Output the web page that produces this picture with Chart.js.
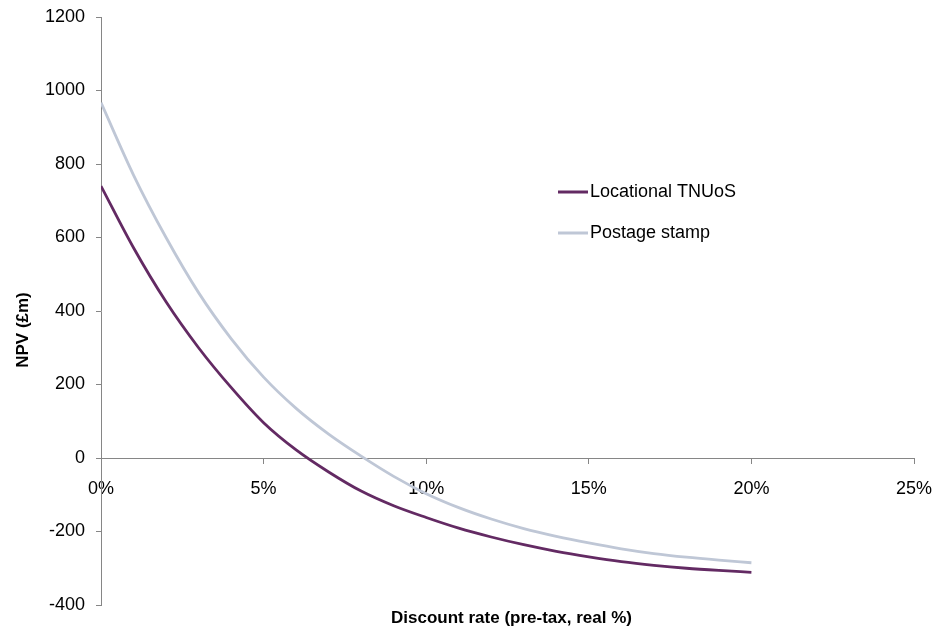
<!DOCTYPE html>
<html>
<head>
<meta charset="utf-8">
<script src="https://cdn.jsdelivr.net/npm/chart.js@4.4.0/dist/chart.umd.min.js"></script>
<style>
    html, body { margin: 0; padding: 0; background: #fff; }
    #wrap { width: 936px; height: 632px; }
</style>
</head>
<body>
<div id="wrap"><canvas id="myChart" width="936" height="632"></canvas></div>
<script>
const rates = [0, 1, 2, 3, 4, 5, 6, 7, 8, 9, 10, 11, 12, 13, 14, 15, 16, 17, 18, 19, 20];
const locational = [740, 572, 425, 300, 192, 96, 22, -38, -90, -130, -162, -191, -215, -236, -254, -269, -282, -292, -300, -306, -311];
const postage = [967, 770, 600, 450, 325, 220, 135, 65, 5, -50, -97, -135, -166, -192, -213, -231, -247, -260, -270, -278, -285];
const seriesNames = ['Locational TNUoS', 'Postage stamp'];
const seriesColors = ['#632a63', '#bfc7d6'];

const FONT = "'Liberation Sans', Arial, sans-serif";

function toPoints(values) {
    return rates.map((r, i) => ({ x: r, y: values[i] }));
}

// legend and axis titles drawn by hand, Excel places them where Chart.js won't
const extras = {
    id: 'extras',
    afterDraw(chart) {
        const ctx = chart.ctx;
        const area = chart.chartArea;
        ctx.save();
        ctx.fillStyle = '#000';
        ctx.textBaseline = 'middle';

        ctx.font = '18px ' + FONT;
        ctx.textAlign = 'left';
        chart.data.datasets.forEach((ds, i) => {
            const y = 192 + i * 41;
            ctx.strokeStyle = ds.borderColor;
            ctx.lineWidth = 3;
            ctx.beginPath();
            ctx.moveTo(558, y);
            ctx.lineTo(588, y);
            ctx.stroke();
            ctx.fillText(ds.label, 590, y);
        });

        ctx.font = 'bold 17px ' + FONT;
        ctx.textAlign = 'center';
        ctx.fillText('Discount rate (pre-tax, real %)', (area.left + area.right) / 2 + 4, 618);

        ctx.translate(23, 330);
        ctx.rotate(-Math.PI / 2);
        ctx.fillText('NPV (£m)', 0, 0);
        ctx.restore();
    }
};

const ctx = document.getElementById('myChart').getContext('2d');
new Chart(ctx, {
    type: 'line',
    data: {
        datasets: [
            {
                label: seriesNames[0],
                data: toPoints(locational),
                borderColor: seriesColors[0],
                backgroundColor: seriesColors[0],
                borderWidth: 2.8,
                pointRadius: 0,
                cubicInterpolationMode: 'monotone'
            },
            {
                label: seriesNames[1],
                data: toPoints(postage),
                borderColor: seriesColors[1],
                backgroundColor: seriesColors[1],
                borderWidth: 2.8,
                pointRadius: 0,
                cubicInterpolationMode: 'monotone'
            }
        ]
    },
    options: {
        responsive: false,
        animation: false,
        layout: {
            padding: { top: 17, right: 22, bottom: 27, left: 0 }
        },
        plugins: {
            legend: { display: false },
            tooltip: { enabled: false }
        },
        scales: {
            x: {
                type: 'linear',
                position: { y: 0 },
                min: 0,
                max: 25,
                afterFit: scale => {
                    scale.height = 0;
                    scale.paddingLeft = 0;
                    scale.paddingRight = 0;
                },
                grid: { drawOnChartArea: false, drawTicks: true, tickLength: 5, color: '#868686' },
                border: { color: '#868686', width: 1 },
                ticks: {
                    stepSize: 5,
                    padding: 15,
                    color: '#000',
                    font: { family: FONT, size: 18 },
                    maxRotation: 0,
                    callback: v => v + '%'
                }
            },
            y: {
                min: -400,
                max: 1200,
                afterFit: scale => {
                    scale.width = 101;
                    scale.paddingTop = 0;
                    scale.paddingBottom = 0;
                },
                grid: { drawOnChartArea: false, drawTicks: true, tickLength: 5, color: '#868686' },
                border: { color: '#868686', width: 1 },
                ticks: {
                    stepSize: 200,
                    padding: 11,
                    color: '#000',
                    font: { family: FONT, size: 18 },
                    callback: v => String(v)
                }
            }
        }
    },
    plugins: [extras]
});
</script>
</body>
</html>
